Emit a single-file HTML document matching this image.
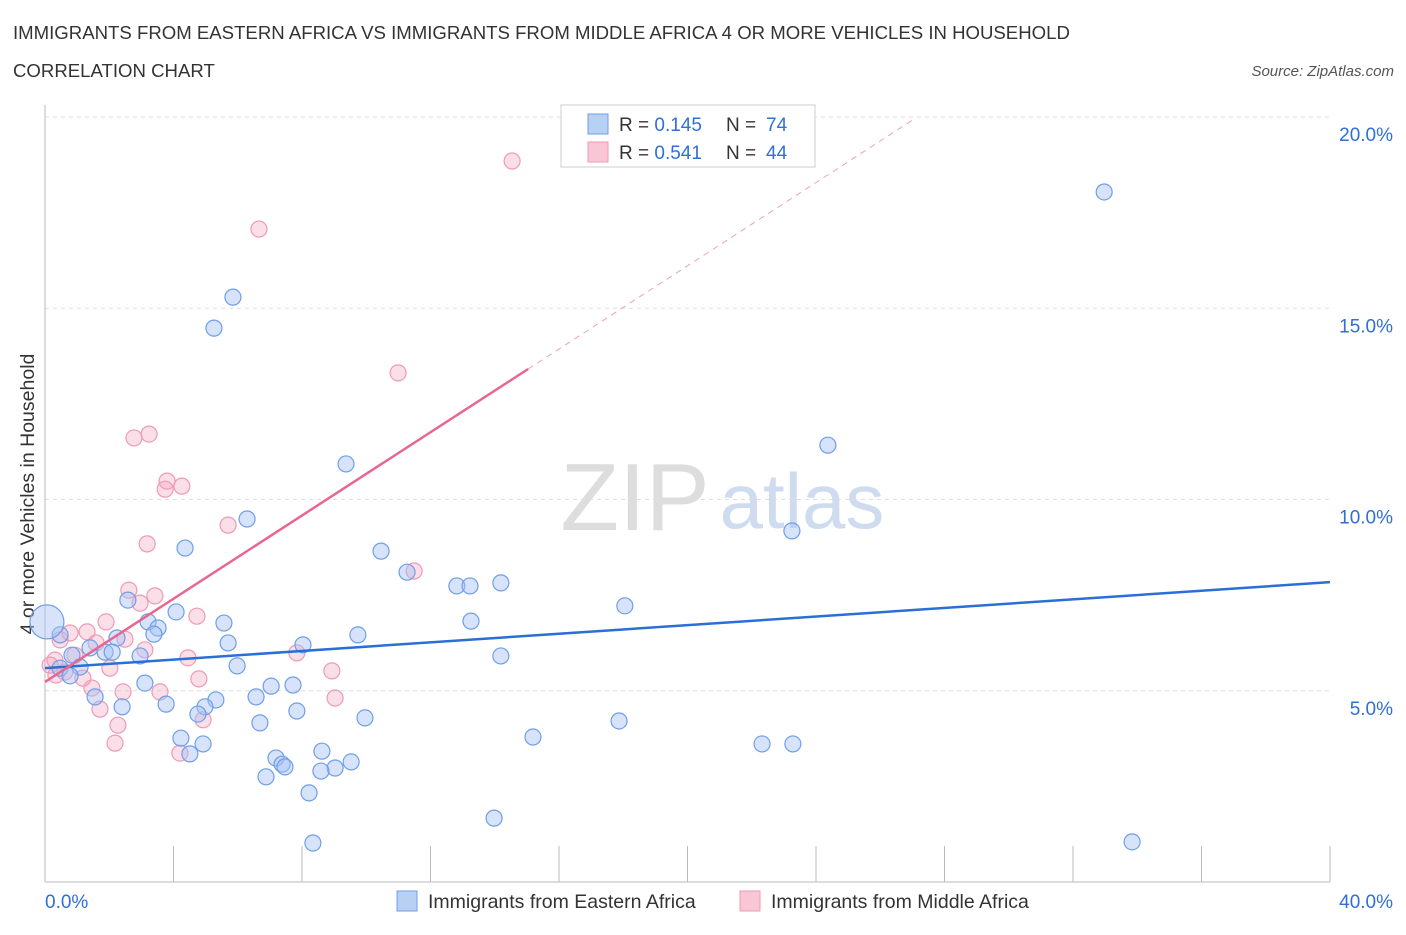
<!DOCTYPE html>
<html><head><meta charset="utf-8"><style>
body{margin:0;background:#fff;font-family:"Liberation Sans",sans-serif;}
svg text{font-family:"Liberation Sans",sans-serif;}
</style></head><body>
<svg id="c" width="1406" height="930" xmlns="http://www.w3.org/2000/svg">
<text x="13" y="39" font-size="18.6" fill="#333">IMMIGRANTS FROM EASTERN AFRICA VS IMMIGRANTS FROM MIDDLE AFRICA 4 OR MORE VEHICLES IN HOUSEHOLD</text>
<text x="13" y="77" font-size="18.6" fill="#333">CORRELATION CHART</text>
<text x="1394" y="76" font-size="15" fill="#555" font-style="italic" text-anchor="end">Source: ZipAtlas.com</text>
<text x="635" y="530" font-size="96" fill="#ddd" font-family="Liberation Serif" text-anchor="middle">ZIP</text>
<text x="802" y="528" font-size="78" fill="#cfdcf0" text-anchor="middle">atlas</text>
<text transform="translate(34,494) rotate(-90)" font-size="19.5" fill="#333" text-anchor="middle">4 or more Vehicles in Household</text>
<g id="grid"></g><g id="marks"></g>
<rect x="561" y="105" width="254" height="62" fill="#fff" stroke="#ccc"/>
<rect x="588" y="114" width="20" height="20" fill="#b9d0f5" stroke="#6f9ee8"/>
<text x="619" y="131" font-size="19" fill="#333">R = <tspan fill="#2f6fd6">0.145</tspan></text>
<text x="726" y="131" font-size="19" fill="#333">N = <tspan fill="#2f6fd6" x="766">74</tspan></text>
<rect x="588" y="142" width="20" height="20" fill="#f8c6d5" stroke="#ef9ab5"/>
<text x="619" y="159" font-size="19" fill="#333">R = <tspan fill="#2f6fd6">0.541</tspan></text>
<text x="726" y="159" font-size="19" fill="#333">N = <tspan fill="#2f6fd6" x="766">44</tspan></text>
<rect x="397" y="891" width="20" height="20" fill="#b9d0f5" stroke="#6f9ee8"/>
<text x="428" y="908" font-size="19.5" fill="#333">Immigrants from Eastern Africa</text>
<rect x="740" y="891" width="20" height="20" fill="#f8c6d5" stroke="#ef9ab5"/>
<text x="771" y="908" font-size="19.5" fill="#333">Immigrants from Middle Africa</text>
</svg>
<script>
const yTicks=[5,10,15,20];
const xTickLabels=["0.0%","40.0%"];
const blueX=[32.97,5.85,5.26,24.37,9.37,6.29,23.25,4.36,10.46,11.27,12.82,13.23,14.19,2.58,18.05,4.08,3.21,13.26,5.57,3.52,3.39,9.74,0.47,2.24,5.70,8.03,1.40,1.87,0.84,2.96,2.09,14.19,5.98,0.47,1.09,0.78,3.11,7.72,7.04,6.57,1.56,5.32,3.77,2.40,4.98,7.84,4.76,6.69,9.96,17.87,15.19,4.23,4.92,22.32,23.28,8.62,7.19,4.51,7.38,7.47,9.53,9.03,8.59,6.88,8.22,13.98,8.34,33.84,0.06];
const blueY=[18.04,15.29,14.48,11.42,10.93,9.49,9.18,8.73,8.65,8.10,7.74,7.74,7.82,7.37,7.22,7.06,6.80,6.82,6.77,6.64,6.48,6.46,6.46,6.38,6.25,6.20,6.12,6.01,5.93,5.91,6.01,5.91,5.65,5.59,5.62,5.39,5.20,5.15,5.12,4.84,4.84,4.76,4.65,4.58,4.58,4.47,4.39,4.16,4.29,4.21,3.79,3.76,3.61,3.61,3.61,3.42,3.24,3.35,3.08,3.01,3.14,2.98,2.90,2.75,2.33,1.67,1.02,1.05,6.80];
const pinkX=[14.54,6.66,10.99,2.77,3.24,3.80,4.26,3.74,5.70,3.18,11.49,2.61,3.42,2.96,4.73,1.90,1.31,0.78,2.49,0.47,1.59,4.45,7.84,0.93,0.31,2.02,8.93,0.16,0.62,4.79,1.46,3.58,2.43,9.03,1.71,4.92,2.27,2.18,4.20,0.34,1.18,3.11];
const pinkY=[18.85,17.07,13.31,11.61,11.71,10.48,10.35,10.27,9.33,8.84,8.13,7.63,7.48,7.29,6.95,6.80,6.54,6.51,6.35,6.33,6.25,5.86,5.99,5.93,5.80,5.59,5.52,5.67,5.49,5.31,5.07,4.97,4.97,4.81,4.52,4.24,4.10,3.63,3.37,5.41,5.33,6.07];
const blueTrend=[5.59,7.84];
const pinkTrend=[5.23,0.544];
const NS="http://www.w3.org/2000/svg";
const X=v=>45+v*32.125, Y=v=>882-v*38.25;
const grid=document.getElementById('grid'), marks=document.getElementById('marks');
function mk(p,tag,a){const e=document.createElementNS(NS,tag);for(const k in a)e.setAttribute(k,a[k]);p.appendChild(e);return e;}
yTicks.forEach(t=>{
 const l=mk(grid,'line',{x1:45,x2:1330,y1:Y(t),y2:Y(t),stroke:'#ddd','stroke-dasharray':'4,4'});
 
 
 const tx=mk(grid,'text',{x:1393,y:Y(t)+24,'font-size':19,fill:'#2f6fd6','text-anchor':'end'});tx.textContent=t.toFixed(1)+'%';
 
 
});
const ax=mk(grid,'line',{x1:45,x2:45,y1:105,y2:882,stroke:'#bbb'});


const bx=mk(grid,'line',{x1:45,x2:1330,y1:882,y2:882,stroke:'#bbb'});


for(let i=0;i<=10;i++){const t=mk(grid,'line',{x1:X(i*4),x2:X(i*4),y1:846,y2:882,stroke:'#bbb'});
 
 }
[[0,'start',45],[40,'end',1393]].forEach((d,i)=>{const t=mk(grid,'text',{x:d[2],y:908,'font-size':19,fill:'#2f6fd6','text-anchor':d[1]});t.textContent=xTickLabels[i];
 
 });
pinkX.forEach((x,i)=>{const c=mk(marks,'circle',{cx:X(x),cy:Y(pinkY[i]),r:8,fill:'rgba(244,164,190,0.35)',stroke:'#ef9ab5','stroke-width':1.2});
 
 });
blueX.forEach((x,i)=>{const big=i===blueX.length-1;const c=mk(marks,'circle',{cx:X(x),cy:Y(blueY[i]),r:big?17:8,fill:'rgba(164,194,244,0.45)',stroke:'#6f9ee8','stroke-width':1.2});
 
 });
const bl=mk(marks,'line',{x1:X(0),y1:Y(blueTrend[0]),x2:X(40),y2:Y(blueTrend[1]),stroke:'#2a6fd6','stroke-width':2.5});


const pl=mk(marks,'line',{x1:X(0),y1:Y(pinkTrend[0]),x2:X(15.04),y2:Y(pinkTrend[0]+pinkTrend[1]*15.04),stroke:'#e8668f','stroke-width':2.5});


const pd=mk(marks,'line',{x1:X(15.04),y1:Y(pinkTrend[0]+pinkTrend[1]*15.04),x2:X(27.08),y2:Y(pinkTrend[0]+pinkTrend[1]*27.08),stroke:'#eea0b8','stroke-width':1,'stroke-dasharray':'6,5'});


</script>
</body></html>
